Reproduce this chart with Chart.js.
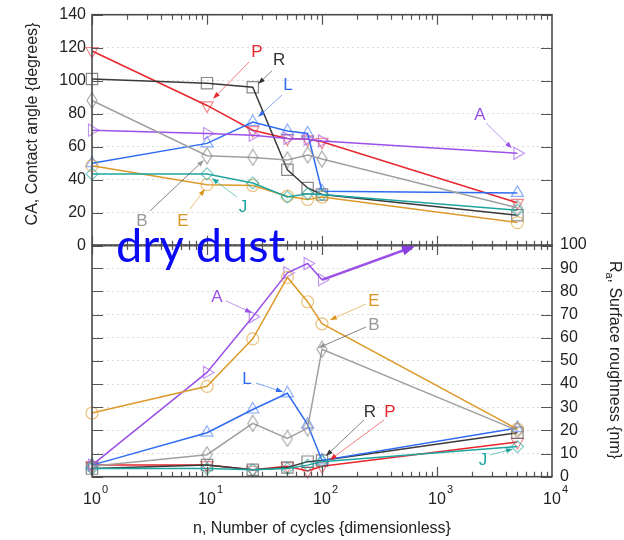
<!DOCTYPE html>
<html><head><meta charset="utf-8">
<script src="https://cdn.jsdelivr.net/npm/chart.js@4.4.1/dist/chart.umd.min.js"></script>
<style>
html,body{margin:0;padding:0;background:#fff;}
#wrap{position:relative;width:624px;height:540px;overflow:hidden;background:#fff;}
canvas{position:absolute;left:0;}
#c1{top:0;}
#c2{top:200px;}
</style></head>
<body><div id="wrap"><canvas id="c1" width="624" height="262"></canvas><canvas id="c2" width="624" height="340"></canvas></div>
<script>
// ---------- data ----------
const cycles = [1, 10, 25, 50, 75, 100, 5000];
const xDecades = [1, 10, 100, 1000, 10000];
const caTicks = [0, 20, 40, 60, 80, 100, 120, 140];
const raTicks = [0, 10, 20, 30, 40, 50, 60, 70, 80, 90, 100];
// CA, contact angle (degrees) - top panel
const caP = [118, 85, 70, 65, 64.5, 63, 26];
const caR = [101, 98.5, 96, 46, 35, 31, 18.5];
const caL = [50, 62, 75, 69.5, 68, 33, 32];
const caA = [70, 68, 67, 65, 64.5, 63.5, 56];
const caB = [88, 54.5, 53.5, 52, 55, 52.5, 23];
const caE = [48.5, 37, 36.5, 30, 28, 29.5, 14];
const caJ = [43.5, 43.5, 38, 29.5, 31.5, 31, 21.5];
// Ra, surface roughness (nm) - bottom panel (A at 5000 is off scale)
const raA = [5, 45, 69, 88, 92, 85, null];
const raE = [27.5, 39, 59.5, 86, 75.5, 66, 20.5];
const raB = [4.5, 9.5, 23, 16.5, 21, 55, 20];
const raL = [5, 19, 29, 36, 22.5, 7, 21];
const raR = [3.5, 5, 3, 4, 6.5, 7, 19];
const raP = [5, 5, 3, 4.5, 2.5, 4.5, 15];
const raJ = [3.5, 3.5, 3, 3.5, 5, 6.5, 13];
// annotation labels (data coordinates)
const notesTop = [
  {t:'P', s:'P', lx:27.2, ly:117.4, x1:23.2, y1:111.3, x2:11.3, y2:89},
  {t:'R', s:'R', lx:42.3, ly:112.5, x1:36.7, y1:105.9, x2:27.8, y2:98},
  {t:'L', s:'L', lx:50.6, ly:97.4, x1:44.9, y1:91.3, x2:27.8, y2:78},
  {t:'A', s:'A', lx:2366, ly:79.2, x1:2668, y1:74.4, x2:4487, y2:59},
  {t:'B', s:'B', lx:2.72, ly:15, x1:3.19, y1:21, x2:9.42, y2:52},
  {t:'E', s:'E', lx:6.18, ly:15, x1:7.11, y1:22.2, x2:9.6, y2:34.4},
  {t:'J', s:'J', lx:20.6, ly:23.5, x1:18.2, y1:29.5, x2:11.0, y2:41}
];
const notesBot = [
  {t:'A', s:'A', lx:12.2, ly:77.5, x1:14.6, y1:75.9, x2:24.6, y2:70.7},
  {t:'L', s:'L', lx:22.3, ly:42.2, x1:26.7, y1:40.4, x2:45.8, y2:36.6},
  {t:'E', s:'E', lx:283, ly:75.8, x1:241, y1:74.5, x2:117, y2:67.6},
  {t:'B', s:'B', lx:283, ly:65.4, x1:241, y1:64.6, x2:92.3, y2:55.5},
  {t:'R', s:'R', lx:261, ly:27.9, x1:232, y1:24.5, x2:108, y2:8.9},
  {t:'P', s:'P', lx:390, ly:27.9, x1:346, y1:24.5, x2:117, y2:7.2},
  {t:'J', s:'J', lx:2512, ly:7.2, x1:2890, y1:9.4, x2:4581, y2:12}
];
const offScaleA = {x1:100, y1:85, x2:644, y2:99.5};

// ---------- styles ----------
const FONT = "'Liberation Sans', Arial, sans-serif";
Chart.defaults.font.family = FONT;
const sty = {
  P:{line:'#e8262d', mk:'rgba(232,38,45,0.55)', ps:'triangle', rot:180, r:7},
  R:{line:'#3a3a3a', mk:'rgba(60,60,60,0.6)', ps:'rect', rot:0, r:8},
  L:{line:'#2f6bf0', mk:'rgba(47,107,240,0.55)', ps:'triangle', rot:0, r:7},
  A:{line:'#9b50e8', mk:'rgba(155,80,232,0.6)', ps:'triangle', rot:90, r:7},
  B:{line:'#a0a0a0', mk:'rgba(140,140,140,0.75)', ps:null, rot:0, r:7},
  E:{line:'#dc9a2a', mk:'rgba(220,154,42,0.6)', ps:'circle', rot:0, r:6},
  J:{line:'#1fa5a0', mk:'rgba(31,165,160,0.6)', ps:'rectRot', rot:0, r:6}
};
const labelCol = {P:'#e8262d', R:'#333', L:'#2f6bf0', A:'#9b50e8', B:'#999', E:'#d9951e', J:'#1fa5a0'};
// narrow diamond marker
const dia = document.createElement('canvas'); dia.width = 12; dia.height = 18;
(function(){const g = dia.getContext('2d'); g.strokeStyle = sty.B.mk; g.lineWidth = 1.2;
  g.beginPath(); g.moveTo(6,1); g.lineTo(11,9); g.lineTo(6,17); g.lineTo(1,9); g.closePath(); g.stroke();})();
sty.B.ps = dia;

function ds(key, vals) {
  const s = sty[key];
  return {
    label:key, data: cycles.map((c,i)=>({x:c, y:vals[i]})),
    borderColor:s.line, borderWidth:1.5, tension:0, spanGaps:false, clip:false,
    pointStyle:s.ps, rotation:s.rot, pointRotation:s.rot, pointRadius:s.r,
    pointBorderColor:s.mk, pointBackgroundColor:'rgba(0,0,0,0)', pointBorderWidth:1.2,
    xAxisID:'x', yAxisID:'yL'
  };
}

function drawArrow(ctx, x1,y1,x2,y2, lineCol, headCol, lw, hl, hw) {
  const a = Math.atan2(y2-y1, x2-x1);
  ctx.save();
  ctx.strokeStyle = lineCol; ctx.lineWidth = lw;
  ctx.beginPath(); ctx.moveTo(x1,y1); ctx.lineTo(x2 - Math.cos(a)*hl*0.7, y2 - Math.sin(a)*hl*0.7); ctx.stroke();
  ctx.fillStyle = headCol;
  ctx.beginPath(); ctx.moveTo(x2,y2);
  ctx.lineTo(x2 - hl*Math.cos(a) + hw/2*Math.sin(a), y2 - hl*Math.sin(a) - hw/2*Math.cos(a));
  ctx.lineTo(x2 - hl*Math.cos(a) - hw/2*Math.sin(a), y2 - hl*Math.sin(a) + hw/2*Math.cos(a));
  ctx.closePath(); ctx.fill();
  ctx.restore();
}
function hexA(hex, al){const n=parseInt(hex.slice(1),16);return `rgba(${n>>16},${(n>>8)&255},${n&255},${al})`;}

function decor(panel) {
  return {
    id:'decor_'+panel,
    afterDatasetsDraw(chart) {
      const ctx = chart.ctx, ca = chart.chartArea, xs = chart.scales.x, ys = chart.scales.yL;
      ctx.save();
      // inner tick marks
      ctx.strokeStyle = '#555'; ctx.lineWidth = 1.2;
      const yt = panel === 'top' ? caTicks : raTicks;
      ctx.beginPath();
      yt.forEach(v => { const py = Math.round(ys.getPixelForValue(v)) + 0.5;
        ctx.moveTo(ca.left, py); ctx.lineTo(ca.left + 11, py);
        ctx.moveTo(ca.right, py); ctx.lineTo(ca.right - 11, py); });
      for (let k = 0; k < 4; k++) for (let m = 1; m <= 9; m++) {
        const v = m * Math.pow(10, k); const px = Math.round(xs.getPixelForValue(v)) + 0.5;
        const len = m === 1 ? 10 : 5;
        ctx.moveTo(px, ca.top); ctx.lineTo(px, ca.top + len);
        ctx.moveTo(px, ca.bottom); ctx.lineTo(px, ca.bottom - len);
      }
      ctx.stroke();
      // frame
      ctx.strokeStyle = '#4a4a4a'; ctx.lineWidth = 1.6;
      ctx.strokeRect(ca.left, ca.top, ca.right - ca.left, ca.bottom - ca.top);
      // annotations
      const notes = panel === 'top' ? notesTop : notesBot;
      notes.forEach(n => {
        const c = labelCol[n.s];
        drawArrow(ctx, xs.getPixelForValue(n.x1), ys.getPixelForValue(n.y1), xs.getPixelForValue(n.x2), ys.getPixelForValue(n.y2), hexA(c.length===4?'#333333':c,0.6), c, 1, 7, 5);
        ctx.fillStyle = c; ctx.font = '17px ' + FONT; ctx.textAlign = 'center'; ctx.textBaseline = 'middle';
        ctx.fillText(n.t, xs.getPixelForValue(n.lx), ys.getPixelForValue(n.ly));
      });
      if (panel === 'bottom') {
        drawArrow(ctx, xs.getPixelForValue(offScaleA.x1), ys.getPixelForValue(offScaleA.y1), xs.getPixelForValue(offScaleA.x2), ys.getPixelForValue(offScaleA.y2), '#9b50e8', '#8a3fe0', 2.4, 13, 10);
      }
      ctx.restore();
    },
    afterDraw(chart) {
      const ctx = chart.ctx, ca = chart.chartArea, xs = chart.scales.x;
      ctx.save();
      ctx.fillStyle = '#222';
      if (panel === 'top') {
        ctx.translate(33, 124); ctx.rotate(-Math.PI/2);
        ctx.font = '16px ' + FONT; ctx.textAlign = 'center'; ctx.textBaseline = 'middle';
        ctx.fillText('CA, Contact angle {degrees}', 0, 0);
      } else {
        // x tick labels 10^n
        xDecades.forEach((v, k) => {
          const px = xs.getPixelForValue(v);
          ctx.font = '16px ' + FONT; ctx.textAlign = 'center'; ctx.textBaseline = 'alphabetic';
          ctx.fillText('10', px, 304);
          const w = ctx.measureText('10').width;
          ctx.font = '11px ' + FONT; ctx.textAlign = 'left';
          ctx.fillText(String(k), px + w/2 + 1, 293);
        });
        ctx.font = '16px ' + FONT; ctx.textAlign = 'center';
        ctx.fillText('n, Number of cycles {dimensionless}', 322, 333);
        // right title with subscript
        ctx.save();
        ctx.translate(614, 160); ctx.rotate(Math.PI/2);
        ctx.textBaseline = 'middle'; ctx.textAlign = 'left';
        ctx.font = '16px ' + FONT; const w1 = ctx.measureText('R').width;
        const rest = ', Surface roughness {nm}'; const w3 = ctx.measureText(rest).width;
        ctx.font = '11px ' + FONT; const w2 = ctx.measureText('a').width;
        let x0 = -(w1 + w2 + w3)/2;
        ctx.font = '16px ' + FONT; ctx.fillText('R', x0, 0);
        ctx.font = '11px ' + FONT; ctx.fillText('a', x0 + w1, 5);
        ctx.font = '16px ' + FONT; ctx.fillText(rest, x0 + w1 + w2, 0);
        ctx.restore();
        // dry dust
        ctx.fillStyle = '#0a0af5'; ctx.font = '47px Lato'; ctx.textAlign = 'left'; ctx.textBaseline = 'alphabetic';
        ctx.fillText('dry dust', 116, 62);
      }
      ctx.restore();
    }
  };
}

function makeChart(id, panel) {
  const top = panel === 'top';
  const topH = top ? 14.7 : 45;
  const botH = top ? 262 - 245.7 : 340 - 276.7;
  const datasets = top
    ? [ds('B',caB), ds('J',caJ), ds('E',caE), ds('A',caA), ds('L',caL), ds('R',caR), ds('P',caP)]
    : [ds('B',raB), ds('J',raJ), ds('E',raE), ds('A',raA), ds('L',raL), ds('R',raR), ds('P',raP)];
  const yMax = top ? 140 : 100, step = top ? 20 : 10;
  const noPadY = w => s => { s.width = w; s.paddingTop = 0; s.paddingBottom = 0; };
  const noPadX = h => s => { s.height = h; s.paddingLeft = 0; s.paddingRight = 0; };
  return new Chart(document.getElementById(id), {
    type:'line',
    data:{datasets},
    options:{
      responsive:false, devicePixelRatio:1, animation:false,
      layout:{padding:0},
      plugins:{legend:{display:false}, tooltip:{enabled:false}},
      scales:{
        x:{type:'logarithmic', position:'bottom', min:1, max:10000,
           ticks:{display:false}, grid:{display:false}, border:{display:false}, afterFit:noPadX(botH)},
        x2:{type:'logarithmic', position:'top', min:1, max:10000,
           ticks:{display:false}, grid:{display:false}, border:{display:false}, afterFit:noPadX(topH)},
        yL:{type:'linear', position:'left', min:0, max:yMax,
           ticks:{display:top, stepSize:step, padding:6, color:'#222', font:{size:16}},
           grid:{display:true, drawTicks:false, color:'#dcdcdc', lineWidth:1},
           border:{display:false, dash:[2,3]}, afterFit:noPadY(92)},
        yR:{type:'linear', position:'right', min:0, max:yMax,
           ticks:{display:!top, stepSize:step, padding:8, color:'#222', font:{size:16}},
           grid:{display:false, drawTicks:false}, border:{display:false}, afterFit:noPadY(72)}
      }
    },
    plugins:[decor(panel)]
  });
}
makeChart('c1', 'top');
makeChart('c2', 'bottom');
</script>
</body></html>
